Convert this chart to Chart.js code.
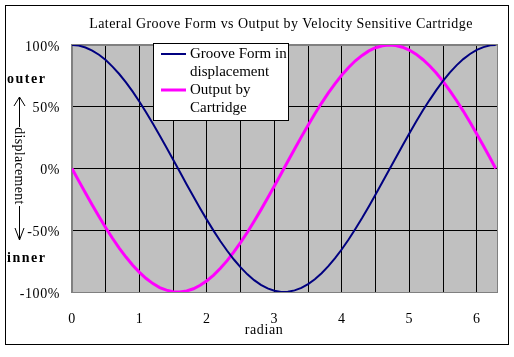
<!DOCTYPE html>
<html>
<head>
<meta charset="utf-8">
<script src="https://cdn.jsdelivr.net/npm/chart.js@4/dist/chart.umd.min.js"></script>
<style>
html,body{margin:0;padding:0;background:#fff;}
#wrap{width:514px;height:357px;position:relative;}
</style>
</head>
<body>
<div id="wrap"><canvas id="c" width="514" height="357"></canvas></div>
<script>
const chartTitle = "Lateral Groove Form vs Output by Velocity Sensitive Cartridge";
const xAxisTitle = "radian";
const seriesNames = [["Groove Form in", "displacement"], ["Output by", "Cartridge"]];
const radians = [0,0.1,0.2,0.3,0.4,0.5,0.6,0.7,0.8,0.9,1.0,1.1,1.2,1.3,1.4,1.5,1.6,1.7,1.8,1.9,2.0,2.1,2.2,2.3,2.4,2.5,2.6,2.7,2.8,2.9,3.0,3.1,3.2,3.3,3.4,3.5,3.6,3.7,3.8,3.9,4.0,4.1,4.2,4.3,4.4,4.5,4.6,4.7,4.8,4.9,5.0,5.1,5.2,5.3,5.4,5.5,5.6,5.7,5.8,5.9,6.0,6.1,6.2,6.28];
const grooveForm = [1.000,0.995,0.980,0.955,0.921,0.878,0.825,0.765,0.697,0.622,0.540,0.454,0.362,0.267,0.170,0.071,-0.029,-0.129,-0.227,-0.323,-0.416,-0.505,-0.589,-0.666,-0.737,-0.801,-0.857,-0.904,-0.942,-0.971,-0.990,-0.999,-0.998,-0.987,-0.967,-0.936,-0.897,-0.848,-0.791,-0.726,-0.654,-0.575,-0.490,-0.401,-0.307,-0.211,-0.112,-0.012,0.087,0.187,0.284,0.378,0.469,0.554,0.635,0.709,0.776,0.835,0.886,0.927,0.960,0.983,0.997,1.000];
const cartridgeOutput = [0.000,-0.100,-0.199,-0.296,-0.389,-0.479,-0.565,-0.644,-0.717,-0.783,-0.841,-0.891,-0.932,-0.964,-0.985,-0.997,-1.000,-0.992,-0.974,-0.946,-0.909,-0.863,-0.808,-0.746,-0.675,-0.598,-0.516,-0.427,-0.335,-0.239,-0.141,-0.042,0.058,0.158,0.256,0.351,0.443,0.530,0.612,0.688,0.757,0.818,0.872,0.916,0.952,0.978,0.994,1.000,0.996,0.982,0.959,0.926,0.883,0.832,0.773,0.706,0.631,0.551,0.465,0.374,0.279,0.182,0.083,0.000];
const xTickValues = [0,0.5,1,1.5,2,2.5,3,3.5,4,4.5,5,5.5,6];
const xTickLabels = ["0","","1","","2","","3","","4","","5","","6"];
const yTickValues = [-1,-0.5,0,0.5,1];
const yTickLabels = ["-100%","-50%","0%","50%","100%"];
const sideLabels = ["outer", "displacement", "inner"];

const SERIF = "'Liberation Serif','Times New Roman',serif";
const NAVY = "#000080", MAG = "#ff00ff";

const decor = {
  id: 'decor',
  beforeDraw(chart) {
    const {ctx, chartArea: a} = chart;
    ctx.save();
    ctx.fillStyle = '#fff';
    ctx.fillRect(0, 0, chart.width, chart.height);
    ctx.fillStyle = '#c0c0c0';
    ctx.fillRect(a.left, a.top, a.right - a.left, a.bottom - a.top);
    ctx.restore();
    ctx.letterSpacing = '0.6px';
  },
  afterDraw(chart) {
    const {ctx, chartArea: a} = chart;
    ctx.save();
    // plot border
    ctx.strokeStyle = '#808080'; ctx.lineWidth = 1;
    ctx.strokeRect(a.left - 0.5, a.top - 0.5, a.right - a.left + 1, a.bottom - a.top + 1);
    // outer border
    ctx.strokeStyle = '#000';
    ctx.strokeRect(5.5, 5.5, 503, 339);
    // title
    ctx.fillStyle = '#000';
    ctx.letterSpacing = '0.45px';
    ctx.font = "14px " + SERIF;
    ctx.textAlign = 'center'; ctx.textBaseline = 'middle';
    ctx.fillText(chartTitle, 281, 24);
    // x axis title
    ctx.letterSpacing = '0.6px';
    ctx.fillText(xAxisTitle, 264, 330);
    // side labels
    ctx.font = "bold 14px " + SERIF;
    ctx.letterSpacing = '1.5px';
    ctx.textAlign = 'left';
    ctx.fillText(sideLabels[0], 7, 79);
    ctx.fillText(sideLabels[2], 7, 258);
    // arrows
    ctx.lineWidth = 1;
    ctx.beginPath();
    ctx.moveTo(19.5, 97); ctx.lineTo(19.5, 127);
    ctx.moveTo(14, 106); ctx.lineTo(19.5, 97); ctx.lineTo(25, 106);
    ctx.moveTo(19.5, 206); ctx.lineTo(19.5, 240);
    ctx.moveTo(15, 228); ctx.lineTo(19.5, 240); ctx.lineTo(24, 228);
    ctx.stroke();
    ctx.save();
    ctx.translate(19, 166);
    ctx.rotate(Math.PI / 2);
    ctx.font = "14px " + SERIF;
    ctx.letterSpacing = '0.3px';
    ctx.textAlign = 'center'; ctx.textBaseline = 'middle';
    ctx.fillText(sideLabels[1], 0, 0);
    ctx.restore();
    // legend
    ctx.fillStyle = '#fff';
    ctx.fillRect(153, 43, 135, 77);
    ctx.strokeStyle = '#000';
    ctx.strokeRect(153.5, 43.5, 135, 77);
    const colors = [NAVY, MAG], widths = [2, 3], ys = [54, 90];
    ctx.font = "15px " + SERIF;
    ctx.letterSpacing = '0px';
    ctx.textAlign = 'left'; ctx.textBaseline = 'middle';
    for (let i = 0; i < 2; i++) {
      ctx.strokeStyle = colors[i]; ctx.lineWidth = widths[i];
      ctx.beginPath(); ctx.moveTo(161, ys[i]); ctx.lineTo(186, ys[i]); ctx.stroke();
      ctx.fillStyle = '#000';
      ctx.fillText(seriesNames[i][0], 190, ys[i]);
      ctx.fillText(seriesNames[i][1], 190, ys[i] + 18);
    }
    ctx.restore();
  }
};

new Chart(document.getElementById('c'), {
  type: 'line',
  data: {
    datasets: [
      { label: seriesNames[0].join(' '), data: radians.map((x, i) => ({x, y: grooveForm[i]})),
        borderColor: NAVY, borderWidth: 2, pointRadius: 0, tension: 0, fill: false },
      { label: seriesNames[1].join(' '), data: radians.map((x, i) => ({x, y: cartridgeOutput[i]})),
        borderColor: MAG, borderWidth: 3, pointRadius: 0, tension: 0, fill: false }
    ]
  },
  options: {
    responsive: false, animation: false, devicePixelRatio: 1,
    layout: { padding: { left: 0, right: 17, top: 45, bottom: 0 } },
    plugins: { legend: { display: false }, title: { display: false }, tooltip: { enabled: false } },
    scales: {
      x: {
        type: 'linear', min: 0, max: 6.3,
        afterBuildTicks: s => { s.ticks = xTickValues.map(v => ({value: v})); },
        afterFit: s => { s.height = 65; },
        ticks: { autoSkip: false, maxRotation: 0, padding: 19, color: '#000',
                 font: { family: SERIF, size: 14 },
                 callback: (v) => { const i = xTickValues.indexOf(v); return i >= 0 ? xTickLabels[i] : ''; } },
        grid: { drawTicks: false, lineWidth: 1,
                color: c => (c.tick && c.tick.value === 0) ? '#808080' : '#000' },
        border: { display: true, color: '#808080' }
      },
      y: {
        type: 'linear', min: -1, max: 1,
        afterBuildTicks: s => { s.ticks = yTickValues.map(v => ({value: v})); },
        afterFit: s => { s.width = 72; },
        ticks: { padding: 12, labelOffset: 2, color: '#000', font: { family: SERIF, size: 14 },
                 callback: (v) => { const i = yTickValues.indexOf(v); return i >= 0 ? yTickLabels[i] : ''; } },
        grid: { drawTicks: false, lineWidth: 1,
                color: c => (c.tick && Math.abs(c.tick.value) === 1) ? '#808080' : '#000' },
        border: { display: true, color: '#808080' }
      }
    }
  },
  plugins: [decor]
});
</script>
</body>
</html>
